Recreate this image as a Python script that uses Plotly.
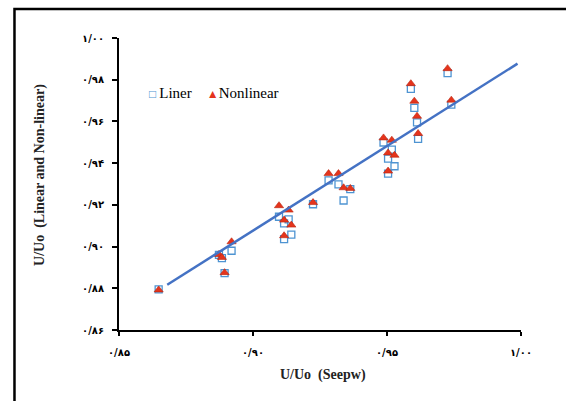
import plotly.graph_objects as go

# ---- data ----
x_seepw = [0.8648, 0.8873, 0.8884, 0.8894, 0.8920, 0.9097, 0.9116, 0.9116,
           0.9133, 0.9143, 0.9224, 0.9282, 0.9319, 0.9338, 0.9363, 0.9487,
           0.9518, 0.9504, 0.9528, 0.9504, 0.9589, 0.9602, 0.9612, 0.9616,
           0.9726, 0.9740]
y_liner = [0.8795, 0.8960, 0.8945, 0.8873, 0.8980, 0.9143, 0.9111, 0.9036,
           0.9130, 0.9057, 0.9203, 0.9317, 0.9298, 0.9221, 0.9275, 0.9499,
           0.9465, 0.9422, 0.9385, 0.9350, 0.9756, 0.9665, 0.9595, 0.9516,
           0.9832, 0.9681]
y_nonlinear = [0.8792, 0.8962, 0.8948, 0.8875, 0.9023, 0.9196, 0.9127, 0.9052,
               0.9175, 0.9103, 0.9211, 0.9350, 0.9350, 0.9282, 0.9279, 0.9521,
               0.9510, 0.9449, 0.9438, 0.9362, 0.9781, 0.9697, 0.9625, 0.9542,
               0.9853, 0.9702]
trend_x = [0.8680, 0.9987]
trend_y = [0.8817, 0.9877]

x_tickvals = [0.85, 0.90, 0.95, 1.00]
x_ticktext = ["۰/۸۵", "۰/۹۰", "۰/۹۵", "۱/۰۰"]
y_tickvals = [0.86, 0.88, 0.90, 0.92, 0.94, 0.96, 0.98, 1.00]
y_ticktext = ["۰/۸۶", "۰/۸۸", "۰/۹۰", "۰/۹۲", "۰/۹۴", "۰/۹۶", "۰/۹۸", "۱/۰۰"]

series_names = ["Liner", "Nonlinear"]
x_title = "U/Uo\u00a0\u00a0(Seepw)"
y_title = "U/Uo\u00a0\u00a0(Linear and Non-linear)"

BLUE_SQ = "#4E94D2"
RED_TRI = "#E5341C"
LINE_BLUE = "#4472C4"

fig = go.Figure()
fig.add_trace(go.Scatter(
    x=x_seepw, y=y_liner, mode="markers", name=series_names[0],
    marker=dict(symbol="square-open", size=7, color=BLUE_SQ, line=dict(width=1.3, color=BLUE_SQ)),
    showlegend=False))
fig.add_trace(go.Scatter(
    x=x_seepw, y=y_nonlinear, mode="markers", name=series_names[1],
    marker=dict(symbol="triangle-up", size=8, color=RED_TRI, line=dict(width=0.6, color="#B8250F")),
    showlegend=False))
fig.add_trace(go.Scatter(
    x=trend_x, y=trend_y, mode="lines", line=dict(color=LINE_BLUE, width=2.5),
    showlegend=False, hoverinfo="skip"))

tick_font = dict(family="DejaVu Sans", size=10, color="black", weight="bold")
axis_common = dict(showgrid=False, zeroline=False, showline=True, linecolor="black",
                   linewidth=2, ticks="outside", tickcolor="black", tickwidth=2,
                   tickfont=tick_font)

fig.update_xaxes(range=[0.85, 1.00], tickvals=x_tickvals, ticktext=x_ticktext,
                 ticklen=4, ticklabelstandoff=8, **axis_common)
fig.update_yaxes(range=[0.86, 1.00], tickvals=y_tickvals, ticktext=y_ticktext,
                 ticklen=5, ticklabelstandoff=6, **axis_common)

legend_text = (f'<span style="color:{BLUE_SQ};font-size:12px">□</span>\u2009{series_names[0]}'
               '\u00a0\u00a0\u00a0\u00a0'
               f'<span style="color:{RED_TRI};font-size:12px">▲</span>{series_names[1]}')

fig.update_layout(
    width=566, height=401,
    margin=dict(l=119, r=45, t=38, b=71),
    paper_bgcolor="white", plot_bgcolor="white",
    font=dict(family="Liberation Serif", color="black"),
    annotations=[
        dict(text=legend_text, xref="paper", yref="paper", x=0.070, y=0.812,
             xanchor="left", yanchor="middle", showarrow=False,
             font=dict(family="Liberation Serif", size=15, color="black")),
        dict(text=f"<b>{x_title}</b>", xref="paper", yref="paper", x=0.5075, y=-0.154,
             xanchor="center", yanchor="middle", showarrow=False,
             font=dict(family="Liberation Serif", size=14, color="#222")),
        dict(text=f"<b>{y_title}</b>", xref="paper", yref="paper", x=-0.1965, y=0.531,
             xanchor="center", yanchor="middle", showarrow=False, textangle=-90,
             font=dict(family="Liberation Serif", size=14, color="#222")),
    ],
    shapes=[
        dict(type="rect", xref="paper", yref="paper", x0=-0.26, y0=-0.35, x1=1.2, y1=1.0993,
             line=dict(color="black", width=2.5), fillcolor="rgba(0,0,0,0)", layer="above"),
    ],
)

fig.write_html("out.html", config={"displayModeBar": False},
               post_script="document.body.style.margin='0';document.body.style.padding='0';"
                           "document.body.style.overflow='hidden';")
